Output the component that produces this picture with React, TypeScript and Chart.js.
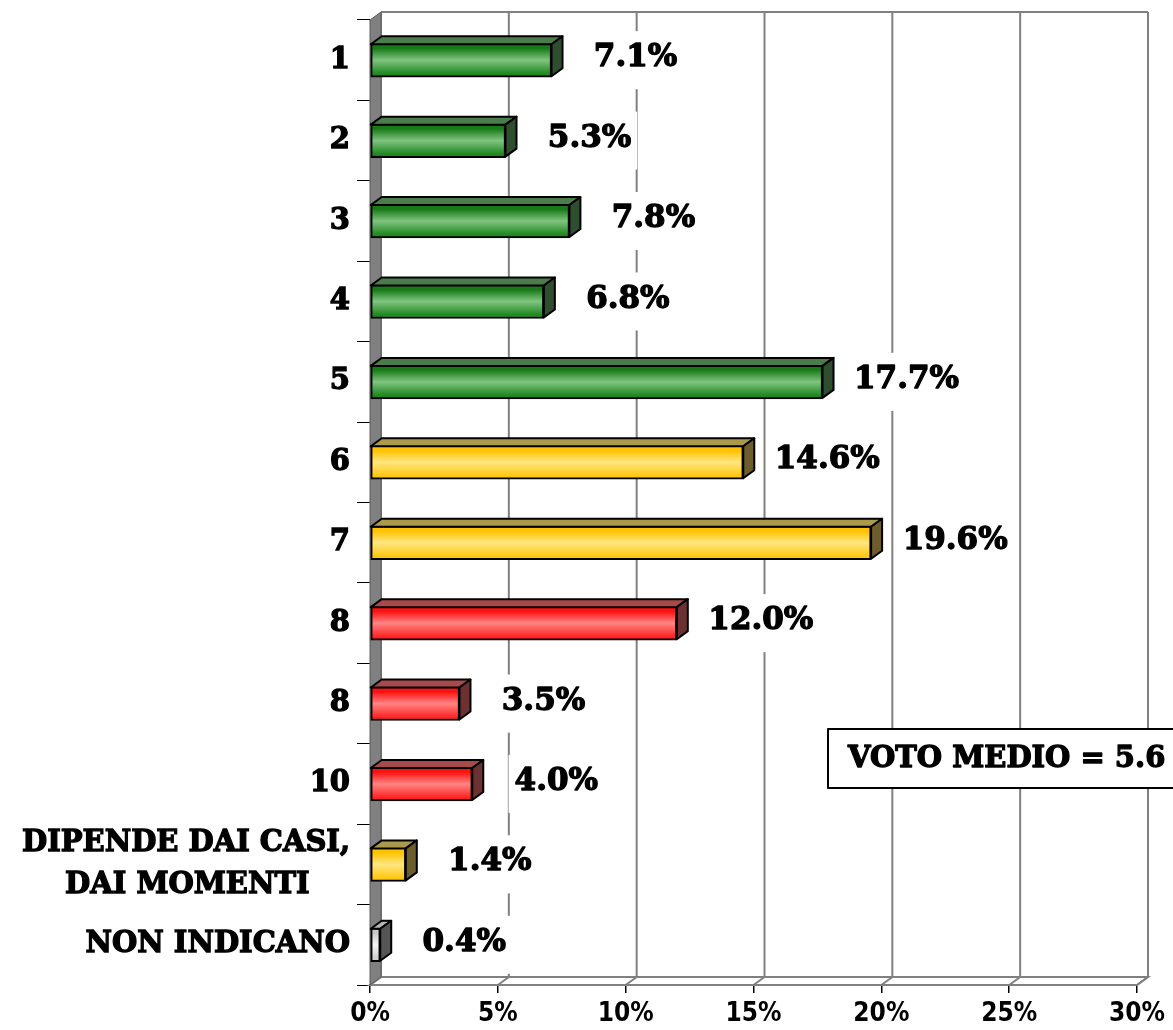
import React, { useEffect, useRef } from 'react';
import { Chart, registerables } from 'chart.js';

Chart.register(...registerables);

// ---- data ----
const categories: (string | string[])[] = [
  '1', '2', '3', '4', '5', '6', '7', '8', '8', '10',
  ['DIPENDE DAI CASI,', 'DAI MOMENTI\u00A0\u00A0\u00A0\u00A0'],
  'NON INDICANO',
];
const values = [7.1, 5.3, 7.8, 6.8, 17.7, 14.6, 19.6, 12.0, 3.5, 4.0, 1.4, 0.4];
const colorGroups = ['green', 'green', 'green', 'green', 'green', 'yellow', 'yellow', 'red', 'red', 'red', 'yellow', 'gray'];
const xTickValues = [0, 5, 10, 15, 20, 25, 30];
const averageText = 'VOTO MEDIO = 5.6';

// ---- styles ----
const palettes: Record<string, { edge: string; mid: string; bottom: string; top: string; side: string }> = {
  green: { edge: '#177a17', mid: '#80c480', bottom: '#2a8f2a', top: '#4b7d4b', side: '#2f4d2f' },
  yellow: { edge: '#ffc200', mid: '#ffe680', bottom: '#ffcb1f', top: '#ab9a4c', side: '#6e5d2c' },
  red: { edge: '#ff1010', mid: '#ff8484', bottom: '#ff3030', top: '#a84a4a', side: '#6c3232' },
  gray: { edge: '#c8c8c8', mid: '#f4f4f4', bottom: '#d0d0d0', top: '#b4b4b4', side: '#555555' },
};
const DX = 11;
const DY = 8;
const SERIF = '"DejaVu Serif", "Liberation Serif", serif';
const NARROW = '"Liberation Sans Narrow", "DejaVu Sans Condensed", sans-serif';
const BAR_T = 34;

function boldText(ctx: CanvasRenderingContext2D, txt: string, x: number, y: number) {
  ctx.lineWidth = 1.3;
  ctx.strokeStyle = '#000000';
  ctx.lineJoin = 'round';
  ctx.strokeText(txt, x, y);
  ctx.fillText(txt, x, y);
}

const threeDPlugin = {
  id: 'threeD',
  beforeDatasetsDraw(chart: any) {
    const { ctx, chartArea: a, scales } = chart;
    const x = scales.x;
    const y = scales.y;
    ctx.save();
    // floor
    ctx.beginPath();
    ctx.moveTo(a.left, a.bottom);
    ctx.lineTo(a.right, a.bottom);
    ctx.lineTo(a.right + DX, a.bottom - DY);
    ctx.lineTo(a.left + DX, a.bottom - DY);
    ctx.closePath();
    ctx.fillStyle = '#ffffff';
    ctx.fill();
    ctx.strokeStyle = '#808080';
    ctx.lineWidth = 2;
    ctx.stroke();
    // back grid lines + floor slants
    ctx.strokeStyle = '#808080';
    ctx.lineWidth = 2;
    xTickValues.forEach((v) => {
      const px = x.getPixelForValue(v);
      ctx.beginPath();
      ctx.moveTo(px + DX, a.top - DY);
      ctx.lineTo(px + DX, a.bottom - DY);
      ctx.moveTo(px, a.bottom);
      ctx.lineTo(px + DX, a.bottom - DY);
      ctx.stroke();
    });
    // top back border
    ctx.beginPath();
    ctx.moveTo(a.left + DX, a.top - DY);
    ctx.lineTo(a.right + DX, a.top - DY);
    ctx.stroke();
    // left wall
    ctx.beginPath();
    ctx.moveTo(a.left, a.top);
    ctx.lineTo(a.left + DX, a.top - DY);
    ctx.lineTo(a.left + DX, a.bottom - DY);
    ctx.lineTo(a.left, a.bottom);
    ctx.closePath();
    ctx.fillStyle = '#808080';
    ctx.fill();
    ctx.strokeStyle = '#5a5a5a';
    ctx.lineWidth = 1;
    ctx.stroke();

    // data labels with white boxes
    ctx.font = `bold 31px ${SERIF}`;
    ctx.textAlign = 'center';
    ctx.textBaseline = 'middle';
    values.forEach((v, i) => {
      const px = x.getPixelForValue(v);
      const cy = y.getPixelForValue(i);
      const txt = v.toFixed(1) + '%';
      const w = ctx.measureText(txt).width;
      const cx = px + 84;
      ctx.fillStyle = '#ffffff';
      ctx.fillRect(cx - w / 2 - 6, cy - 29, w + 12, 58);
      ctx.fillStyle = '#000000';
      boldText(ctx, txt, cx, cy - 2);
    });
    ctx.restore();
  },
  afterDatasetsDraw(chart: any) {
    const { ctx } = chart;
    const meta = chart.getDatasetMeta(0);
    ctx.save();
    ctx.lineJoin = 'round';
    meta.data.forEach((el: any, i: number) => {
      const p = el.getProps(['x', 'y', 'base', 'height'], true);
      const pal = palettes[colorGroups[i]];
      const x0 = Math.min(p.base, p.x);
      const x1 = Math.max(p.base, p.x);
      const top = p.y - p.height / 2 + 1;
      const bot = p.y + p.height / 2 - 1;
      ctx.lineWidth = 2;
      ctx.strokeStyle = '#000000';
      // top face
      ctx.beginPath();
      ctx.moveTo(x0, top);
      ctx.lineTo(x1, top);
      ctx.lineTo(x1 + DX, top - DY);
      ctx.lineTo(x0 + DX, top - DY);
      ctx.closePath();
      ctx.fillStyle = pal.top;
      ctx.fill();
      ctx.stroke();
      // side face
      ctx.beginPath();
      ctx.moveTo(x1, top);
      ctx.lineTo(x1 + DX, top - DY);
      ctx.lineTo(x1 + DX, bot - DY);
      ctx.lineTo(x1, bot);
      ctx.closePath();
      ctx.fillStyle = pal.side;
      ctx.fill();
      ctx.stroke();
    });

    // average box
    ctx.font = `bold 29px ${SERIF}`;
    ctx.textAlign = 'left';
    ctx.textBaseline = 'middle';
    ctx.fillStyle = '#ffffff';
    ctx.fillRect(828, 729, 360, 59);
    ctx.strokeStyle = '#000000';
    ctx.lineWidth = 2;
    ctx.strokeRect(828, 729, 360, 59);
    ctx.fillStyle = '#000000';
    boldText(ctx, averageText, 848, 759);
    ctx.restore();
  },
};

export default function App() {
  const ref = useRef<HTMLCanvasElement | null>(null);
  useEffect(() => {
    document.body.style.margin = '0';
    const canvas = ref.current;
    if (!canvas) return;
    const chart = new Chart(canvas, {
      type: 'bar',
      data: {
        labels: categories as any,
        datasets: [
          {
            data: values,
            barThickness: BAR_T,
            borderWidth: 2,
            borderColor: '#000000',
            borderSkipped: false,
            backgroundColor: (c: any) => {
              const ch = c.chart;
              const pal = palettes[colorGroups[c.dataIndex] || 'green'];
              if (!ch.chartArea || !ch.scales || !ch.scales.y || c.dataIndex === undefined) return pal.mid;
              const cy = ch.scales.y.getPixelForValue(c.dataIndex);
              const g = ch.ctx.createLinearGradient(0, cy - BAR_T / 2, 0, cy + BAR_T / 2);
              g.addColorStop(0, pal.edge);
              g.addColorStop(0.15, pal.edge);
              g.addColorStop(0.5, pal.mid);
              g.addColorStop(0.85, pal.bottom);
              g.addColorStop(1, pal.edge);
              return g;
            },
          } as any,
        ],
      },
      options: {
        indexAxis: 'y',
        animation: false,
        responsive: false,
        maintainAspectRatio: false,
        layout: { padding: { top: 20, right: 36, bottom: 0, left: 0 } },
        plugins: { legend: { display: false }, tooltip: { enabled: false } },
        scales: {
          x: {
            type: 'linear',
            min: 0,
            max: 30,
            afterFit: (s: any) => {
              s.height = 45;
              s.paddingLeft = 0;
              s.paddingRight = 0;
            },
            ticks: {
              stepSize: 5,
              callback: (v: any) => v + '%',
              color: '#000000',
              padding: 6,
              maxRotation: 0,
              autoSkip: false,
              font: { family: NARROW, size: 26, weight: 'bold' },
            },
            grid: { drawOnChartArea: false, drawTicks: true, tickLength: 8, color: '#000000', lineWidth: 1.5 },
            border: { display: true, color: '#000000', width: 2 },
          },
          y: {
            type: 'category',
            afterFit: (s: any) => {
              s.width = 370;
              s.paddingTop = 0;
              s.paddingBottom = 0;
            },
            ticks: {
              color: '#000000',
              padding: 7,
              autoSkip: false,
              textStrokeColor: '#000000',
              textStrokeWidth: 1.3,
              font: { family: SERIF, size: 29, weight: 'bold', lineHeight: 1.45 },
            },
            grid: { drawOnChartArea: false, drawTicks: true, tickLength: 13, color: '#000000', lineWidth: 1, offset: true },
            border: { display: true, color: '#000000', width: 1 },
          },
        },
      },
      plugins: [threeDPlugin],
    } as any);
    return () => chart.destroy();
  }, []);
  return <canvas ref={ref} width={1173} height={1030} style={{ display: 'block' }} />;
}
